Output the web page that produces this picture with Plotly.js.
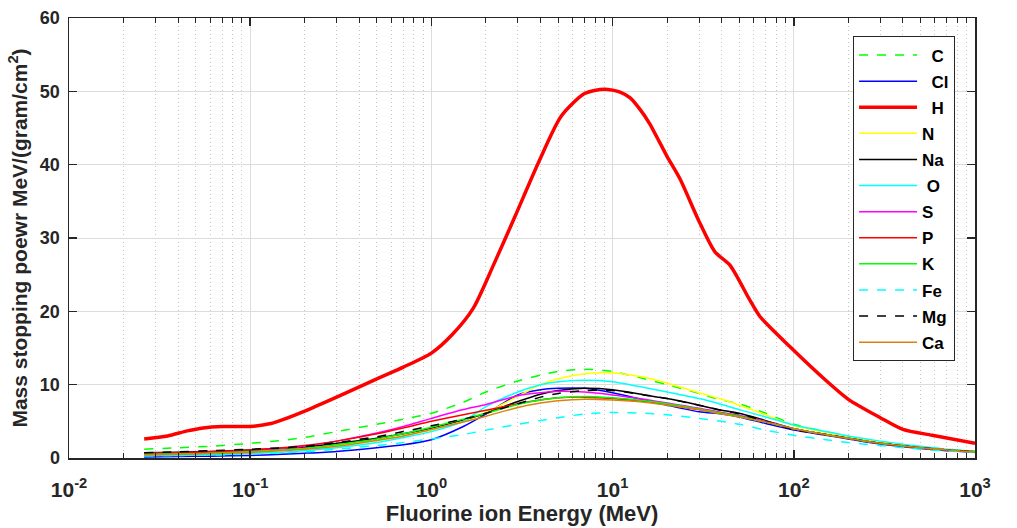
<!DOCTYPE html>
<html>
<head>
<meta charset="utf-8">
<script src="https://cdn.plot.ly/plotly-3.0.1.min.js"></script>
<style>html,body{margin:0;padding:0;background:#fff;}#chart{width:1017px;height:528px;}</style>
</head>
<body>
<div id="chart"></div>
<script>
// Energy grid (MeV)
var energy = [0.026, 0.04, 0.06, 0.1, 0.15, 0.2, 0.3, 0.5, 0.7, 1, 1.5, 2, 3, 4, 5, 7, 10, 15, 20, 30, 40, 50, 70, 100, 150, 200, 300, 500, 700, 1000];
var energyH = [0.026, 0.035, 0.045, 0.055, 0.07, 0.1, 0.13, 0.15, 0.2, 0.3, 0.5, 0.7, 1.0, 1.3, 1.7, 2.2, 2.9, 3.9, 5.2, 7.0, 9.0, 11, 12.5, 14.2, 16, 20, 23.6, 29.7, 36.7, 44.4, 57, 65, 95, 150, 200, 300, 400, 580, 1000];

var H  = [2.6, 3.0, 3.7, 4.1, 4.3, 4.3, 4.7, 5.2, 6.4, 8.3, 10.8, 12.4, 14.3, 16.8, 20.4, 26.3, 33.0, 40.3, 46.6, 49.7, 50.3, 49.9, 49.1, 47.5, 45.6, 41.1, 38.0, 32.5, 28.1, 26.3, 21.6, 19.3, 15.2, 10.6, 8.0, 5.5, 3.9, 3.1, 2.0];
var C  = [1.2, 1.4, 1.6, 2.0, 2.4, 2.8, 3.6, 4.6, 5.3, 6.1, 7.6, 9.0, 10.5, 11.3, 11.8, 12.1, 11.8, 10.8, 10.0, 8.8, 7.9, 7.4, 6.1, 4.6, 3.6, 2.9, 2.2, 1.5, 1.2, 0.95];
var Cl = [0.15, 0.2, 0.25, 0.35, 0.5, 0.65, 0.9, 1.4, 1.8, 2.5, 4.3, 6.0, 8.6, 9.3, 9.5, 9.5, 8.9, 7.9, 7.2, 6.3, 6.0, 5.6, 4.7, 3.8, 3.1, 2.6, 1.9, 1.3, 1.0, 0.8];
var N  = [0.5, 0.6, 0.7, 0.9, 1.1, 1.3, 1.7, 2.4, 3.0, 3.8, 5.0, 6.2, 8.4, 10.0, 10.8, 11.5, 11.6, 11.0, 10.2, 8.9, 8.0, 7.2, 5.9, 4.4, 3.5, 2.9, 2.1, 1.4, 1.1, 0.9];
var Na = [0.7, 0.8, 0.9, 1.1, 1.3, 1.5, 2.0, 2.7, 3.3, 4.1, 5.2, 6.1, 7.7, 8.7, 9.2, 9.5, 9.3, 8.6, 8.1, 7.2, 6.5, 6.1, 5.1, 4.0, 3.2, 2.7, 2.0, 1.4, 1.1, 0.85];
var O  = [0.3, 0.35, 0.45, 0.6, 0.8, 1.0, 1.4, 2.1, 2.8, 3.6, 5.0, 7.0, 9.0, 10.0, 10.4, 10.6, 10.4, 9.6, 9.0, 8.1, 7.3, 6.6, 5.6, 4.5, 3.6, 3.0, 2.3, 1.6, 1.2, 0.9];
var S  = [0.6, 0.7, 0.8, 1.0, 1.3, 1.6, 2.3, 3.4, 4.3, 5.4, 6.6, 7.3, 8.5, 8.9, 9.1, 9.0, 8.6, 8.0, 7.5, 6.8, 6.2, 5.8, 5.0, 4.0, 3.2, 2.7, 2.0, 1.4, 1.1, 0.85];
var P  = [0.6, 0.7, 0.85, 1.1, 1.4, 1.7, 2.3, 3.3, 4.1, 5.0, 5.9, 6.5, 7.4, 7.9, 8.2, 8.3, 8.1, 7.7, 7.3, 6.6, 6.1, 5.7, 4.9, 4.0, 3.2, 2.7, 2.0, 1.4, 1.1, 0.85];
var K  = [0.5, 0.55, 0.65, 0.85, 1.1, 1.3, 1.8, 2.6, 3.3, 4.2, 5.3, 6.1, 7.3, 7.9, 8.2, 8.4, 8.2, 7.8, 7.4, 6.7, 6.1, 5.7, 4.9, 4.0, 3.2, 2.7, 2.0, 1.4, 1.1, 0.85];
var Fe = [0.3, 0.35, 0.4, 0.55, 0.7, 0.85, 1.2, 1.7, 2.1, 2.6, 3.2, 3.8, 4.6, 5.1, 5.5, 6.0, 6.2, 6.1, 5.9, 5.4, 5.0, 4.6, 3.8, 3.1, 2.5, 2.1, 1.7, 1.2, 0.95, 0.75];
var Mg = [0.7, 0.85, 1.0, 1.2, 1.4, 1.6, 2.1, 2.9, 3.6, 4.4, 5.3, 6.1, 7.4, 8.3, 8.8, 9.2, 9.2, 8.6, 8.1, 7.2, 6.5, 6.0, 5.0, 3.9, 3.2, 2.7, 2.0, 1.4, 1.1, 0.85];
var Ca = [0.4, 0.5, 0.6, 0.75, 1.0, 1.2, 1.6, 2.4, 3.0, 3.9, 4.9, 5.7, 6.9, 7.5, 7.8, 8.0, 7.9, 7.6, 7.2, 6.6, 6.0, 5.6, 4.9, 4.0, 3.2, 2.7, 2.0, 1.4, 1.1, 0.8];

var names = ['\u00a0\u00a0C', '\u00a0\u00a0Cl', '\u00a0\u00a0H', 'N', 'Na', '\u00a0O', 'S', 'P', 'K', 'Fe', 'Mg', 'Ca'];
var xTickVals = [0.01, 0.1, 1, 10, 100, 1000];
var xTickText = ['10<sup>-2</sup>', '10<sup>-1</sup>', '10<sup>0</sup>', '10<sup>1</sup>', '10<sup>2</sup>', '10<sup>3</sup>'];

var series = [C, Cl, H, N, Na, O, S, P, K, Fe, Mg, Ca];
var colors = ['#00ff00', '#0000ff', '#ff0000', '#ffff00', '#000000', '#00ffff', '#ff00ff', '#ff0000', '#00ff00', '#00ffff', '#000000', '#d9820f'];
var dashes = ['dash', 'solid', 'solid', 'solid', 'solid', 'solid', 'solid', 'solid', 'solid', 'dash', 'dash', 'solid'];
var widths = [1.5, 1.5, 3.5, 1.5, 1.5, 1.5, 1.5, 1.5, 1.5, 1.5, 1.5, 1.5];

var traces = series.map(function (s, i) {
  return {
    x: (s === H) ? energyH : energy,
    y: s,
    type: 'scatter',
    mode: 'lines',
    name: names[i],
    legendgroup: 'g' + i,
    line: {color: colors[i], width: widths[i], dash: dashes[i], shape: 'spline', smoothing: 0.7}
  };
});

var FONT = 'Arial, Liberation Sans, sans-serif';
var axisCommon = {
  showline: true, linecolor: '#262626', linewidth: 1.5, mirror: 'ticks',
  ticks: 'inside', ticklen: 8, tickwidth: 1.5, tickcolor: '#262626',
  showgrid: true, gridcolor: '#dcdcdc', gridwidth: 1, zeroline: false,
  tickfont: {family: FONT, size: 18, weight: 'bold', color: '#262626'}
};

var layout = {
  width: 1017, height: 528,
  margin: {l: 69, r: 42, t: 18, b: 70},
  paper_bgcolor: '#ffffff', plot_bgcolor: '#ffffff',
  font: {family: FONT, size: 15, color: '#262626'},
  showlegend: true,
  xaxis: Object.assign({}, axisCommon, {
    type: 'log', range: [-2, 3], tickmode: 'array', tickvals: xTickVals, ticktext: xTickText,
    ticklabelstandoff: 12,
    tickfont: {family: FONT, size: 21, weight: 'bold', color: '#262626'},
    minor: {ticks: 'inside', ticklen: 5, tickwidth: 1, tickcolor: '#262626', dtick: 'D1',
            showgrid: true, gridcolor: '#c4c4c4', griddash: '1px,3px', gridwidth: 1},
    title: {text: 'Fluorine ion Energy (MeV)', standoff: 4,
            font: {family: FONT, size: 22, weight: 'bold', color: '#262626'}}
  }),
  yaxis: Object.assign({}, axisCommon, {
    range: [0, 60], dtick: 10, ticklabelstandoff: 4,
    title: {text: 'Mass stopping poewr MeV/(gram/cm<sup>2</sup>)', standoff: 6,
            font: {family: FONT, size: 21, weight: 'bold', color: '#262626'}}
  }),
  legend: {
    x: 0.8654, xanchor: 'left', y: 0.958, yanchor: 'top',
    bgcolor: '#ffffff', bordercolor: '#262626', borderwidth: 1,
    font: {family: FONT, size: 17, weight: 'bold', color: '#000000'},
    tracegroupgap: 1, itemwidth: 58
  }
};

Plotly.newPlot('chart', traces, layout, {displayModeBar: false, staticPlot: true});
</script>
</body>
</html>
